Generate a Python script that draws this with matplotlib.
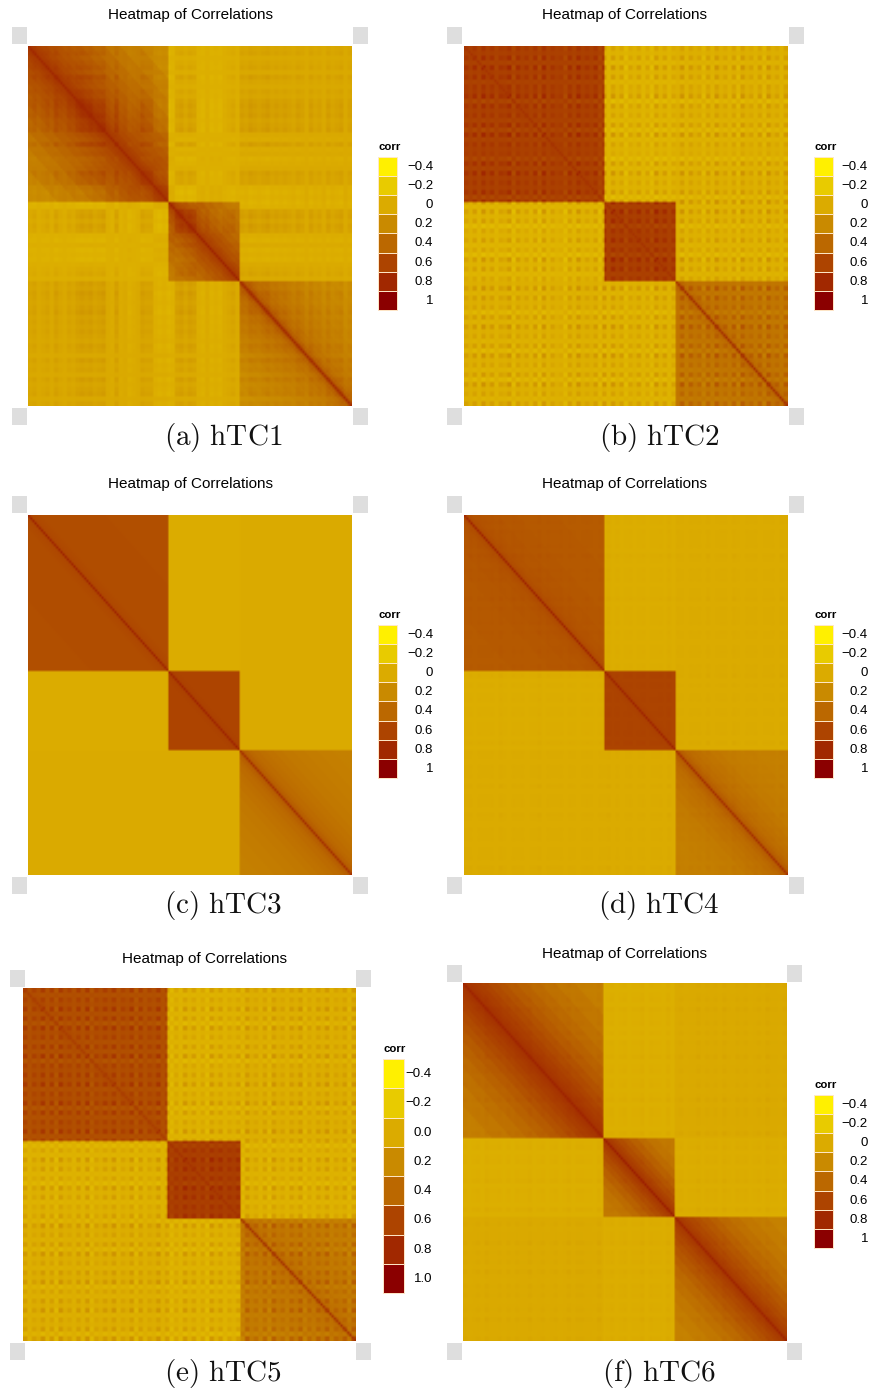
import numpy as np
import matplotlib
matplotlib.use("Agg")
import matplotlib.pyplot as plt
from matplotlib.colors import LinearSegmentedColormap, Normalize
from matplotlib.patches import Rectangle

plt.rcParams['font.family'] = ['Liberation Sans', 'DejaVu Sans']
plt.rcParams['mathtext.fontset'] = 'cm'

# ---------- data (estimates) ----------
BLOCK_SIZES = [65, 33, 52]              # variables per cluster
DIST_EDGES = [0, 1, 2, 4, 6, 9, 12, 16, 20, 25, 30, 36, 43, 52, 66]  # distance-from-diagonal bins
LEGEND_VALUES = [-0.4, -0.2, 0.0, 0.2, 0.4, 0.6, 0.8, 1.0]
LEGEND_COLORS = ['#FFF000', '#E8CB00', '#DBAB00', '#C98A00',
                 '#BB6800', '#AD4400', '#A12800', '#8B0000']
LABELS_INT = ['\u22120.4', '\u22120.2', '0', '0.2', '0.4', '0.6', '0.8', '1']
LABELS_DEC = ['\u22120.4', '\u22120.2', '0.0', '0.2', '0.4', '0.6', '0.8', '1.0']
CAPTIONS = ['(a) hTC1', '(b) hTC2', '(c) hTC3', '(d) hTC4', '(e) hTC5', '(f) hTC6']

# within-cluster correlation by distance bin, three clusters per panel
BANDS_A = [[.80, .70, .66, .62, .58, .55, .52, .49, .46, .42, .38, .33, .28, .22],
           [.82, .68, .62, .58, .54, .50, .45, .40, .36, .32, .30, .30, .30, .30],
           [.78, .55, .42, .36, .33, .30, .28, .26, .24, .22, .20, .18, .16, .16]]
BANDS_B = [[.72, .66, .65, .64, .64, .64, .64, .64, .64, .64, .64, .64, .64, .64],
           [.72, .67, .66, .66, .65, .65, .65, .65, .65, .65, .65, .65, .65, .65],
           [.75, .48, .40, .37, .36, .35, .35, .34, .34, .33, .33, .33, .33, .33]]
BANDS_C = [[.82, .60, .57, .56, .55, .55, .55, .55, .55, .55, .55, .54, .54, .54],
           [.82, .64, .61, .60, .60, .60, .60, .60, .60, .60, .60, .60, .60, .60],
           [.75, .50, .44, .40, .38, .36, .34, .32, .30, .29, .28, .27, .26, .25]]
BANDS_D = [[.82, .58, .54, .52, .51, .50, .50, .49, .49, .48, .48, .48, .47, .47],
           [.82, .64, .61, .60, .60, .60, .60, .60, .60, .60, .60, .60, .60, .60],
           [.75, .50, .44, .40, .37, .35, .33, .31, .29, .28, .27, .26, .26, .25]]
BANDS_E = [[.64, .59, .57, .56, .56, .56, .56, .56, .56, .56, .56, .56, .55, .55],
           [.72, .67, .66, .66, .66, .66, .66, .66, .66, .66, .66, .66, .66, .66],
           [.72, .45, .38, .36, .35, .34, .33, .33, .32, .31, .30, .30, .30, .30]]
BANDS_F = [[.82, .74, .70, .67, .64, .60, .56, .52, .47, .43, .39, .35, .31, .27],
           [.85, .70, .65, .60, .55, .50, .44, .38, .33, .30, .30, .30, .30, .30],
           [.82, .70, .65, .61, .57, .53, .49, .44, .39, .35, .31, .28, .25, .23]]

# off-cluster correlation: cluster 1-2, 1-3, 2-3
OFF_A = [-0.01, 0.02, 0.01]
OFF_B = [-0.03, -0.01, -0.02]
OFF_C = [-0.01, 0.00, 0.00]
OFF_D = [-0.01, 0.00, 0.00]
OFF_E = [-0.02, 0.00, -0.02]
OFF_F = [-0.02, 0.01, -0.01]

# stripe brightness along the axis, one digit per 2 variables (5 = neutral, low = darker)
STRIPE_A = '54654 63564 53232 43267 37687 63448 98983 24237 86878 65463 42343 24343 45346 35463 54364'
STRIPE_B = '46372 63745 28364 73827 46583 72646 38272 63846 37482 63746 27364 83726 47382 64738 26473'
STRIPE_C = '55555 55555 55555 55555 55555 55555 55555 55555 55555 55555 55555 55555 55555 55555 55555'
STRIPE_D = '54645 54635 64546 55364 55464 56545 64536 46546 54655 46364 56454 63654 46356 45465 54635'
STRIPE_E = '37462 73826 47372 84636 27462 83746 27384 72637 48263 74638 26473 82647 36284 73627 46382'
STRIPE_F = '46546 35546 46455 36546 54653 64455 63654 65465 53645 56365 46553 64546 35645 46546 35564'

# stripe strength per panel
STRIPE_AMP = [0.055, 0.090, 0.0, 0.022, 0.080, 0.028]

PANELS = [
    (BANDS_A, OFF_A, STRIPE_A), (BANDS_B, OFF_B, STRIPE_B), (BANDS_C, OFF_C, STRIPE_C),
    (BANDS_D, OFF_D, STRIPE_D), (BANDS_E, OFF_E, STRIPE_E), (BANDS_F, OFF_F, STRIPE_F),
]

# ---------- layout in reference pixels ----------
W, H = 875, 1395
HEAT_BOX = [(28, 46, 352, 406), (464, 46, 787, 406), (28, 515, 352, 875),
            (464, 515, 787, 875), (23, 988, 355, 1341), (463, 983, 786, 1341)]
CORNER_X = [(12, 353), (447, 789), (12, 353), (447, 789), (10, 356), (447, 787)]
CORNER_Y = [(27, 408), (27, 408), (496, 877), (496, 877), (970, 1343), (965, 1343)]
TITLE_XY = [(190, 15), (625, 15), (190, 484), (625, 484), (205, 959), (625, 954)]
CAPTION_XY = [(223, 437), (659, 437), (223, 906), (659, 906), (223, 1373), (659, 1373)]
LEG_X = [378, 814, 378, 814, 383, 814]
LEG_W = [19, 19, 19, 19, 21, 19]
LEG_Y = [157, 157, 625, 625, 1059, 1095]
LEG_RH = [19.1, 19.1, 19.1, 19.1, 29.25, 19.1]
LABEL_R = [433, 868, 433, 868, 432, 868]

cmap = LinearSegmentedColormap.from_list(
    'corr', list(zip([(v + 0.4) / 1.4 for v in LEGEND_VALUES], LEGEND_COLORS)))
norm = Normalize(-0.4, 1.0)


def build_matrix(bands, off, stripe, amp):
    n = sum(BLOCK_SIZES)
    digits = stripe.replace(' ', '')
    group = np.repeat(np.arange(3), BLOCK_SIZES)
    s = np.array([(int(digits[min(i // 2, len(digits) - 1)]) - 5) / 4 for i in range(n)])
    off_lookup = {(0, 1): off[0], (0, 2): off[1], (1, 2): off[2]}
    m = np.zeros((n, n))
    for i in range(n):
        for j in range(n):
            gi, gj = group[i], group[j]
            if gi == gj:
                k = np.searchsorted(DIST_EDGES, abs(i - j), side='right') - 1
                base = bands[gi][min(k, len(bands[gi]) - 1)]
            else:
                base = off_lookup[(min(gi, gj), max(gi, gj))]
            m[i, j] = base
            if i != j:
                m[i, j] += -0.6 * amp * (s[i] + s[j]) + 1.6 * amp * s[i] * s[j]
    return m


fig = plt.figure(figsize=(W / 100, H / 100), dpi=100, facecolor='white')
over = fig.add_axes([0, 0, 1, 1], zorder=0)
over.set_xlim(0, W)
over.set_ylim(H, 0)
over.axis('off')

for idx, (bands, off, stripe) in enumerate(PANELS):
    x0, y0, x1, y1 = HEAT_BOX[idx]
    ax = fig.add_axes([x0 / W, 1 - y1 / H, (x1 - x0) / W, (y1 - y0) / H], zorder=1)
    ax.imshow(build_matrix(bands, off, stripe, STRIPE_AMP[idx]), cmap=cmap, norm=norm,
              aspect='auto', interpolation='bilinear')
    ax.axis('off')

    for cx in CORNER_X[idx]:
        for cy in CORNER_Y[idx]:
            over.add_patch(Rectangle((cx, cy), 15, 17, fc='#DEDEDE', ec='none'))

    tx, ty = TITLE_XY[idx]
    over.text(tx, ty, 'Heatmap of Correlations', ha='center', va='center',
              fontsize=11, color='black')
    cx, cy = CAPTION_XY[idx]
    over.text(cx, cy, r'$\mathrm{' + CAPTIONS[idx].replace(' ', r'\ ') + '}$',
              ha='center', va='center', fontsize=21, color='#111111')

    lx, ly, lw, rh = LEG_X[idx], LEG_Y[idx], LEG_W[idx], LEG_RH[idx]
    over.text(lx + 0.5, ly - 10, 'corr', ha='left', va='center', fontsize=8.2,
              fontweight='bold', color='black')
    labels = LABELS_DEC if idx == 4 else LABELS_INT
    for r, (val, lab) in enumerate(zip(LEGEND_VALUES, labels)):
        over.add_patch(Rectangle((lx, ly + r * rh), lw, rh, fc=cmap(norm(val)),
                                 ec='#FFE8C8', lw=0.7))
        over.text(LABEL_R[idx], ly + (r + 0.5) * rh + 0.5, lab, ha='right', va='center',
                  fontsize=9.5, color='black')

fig.savefig('out.png', dpi=100, facecolor='white')
